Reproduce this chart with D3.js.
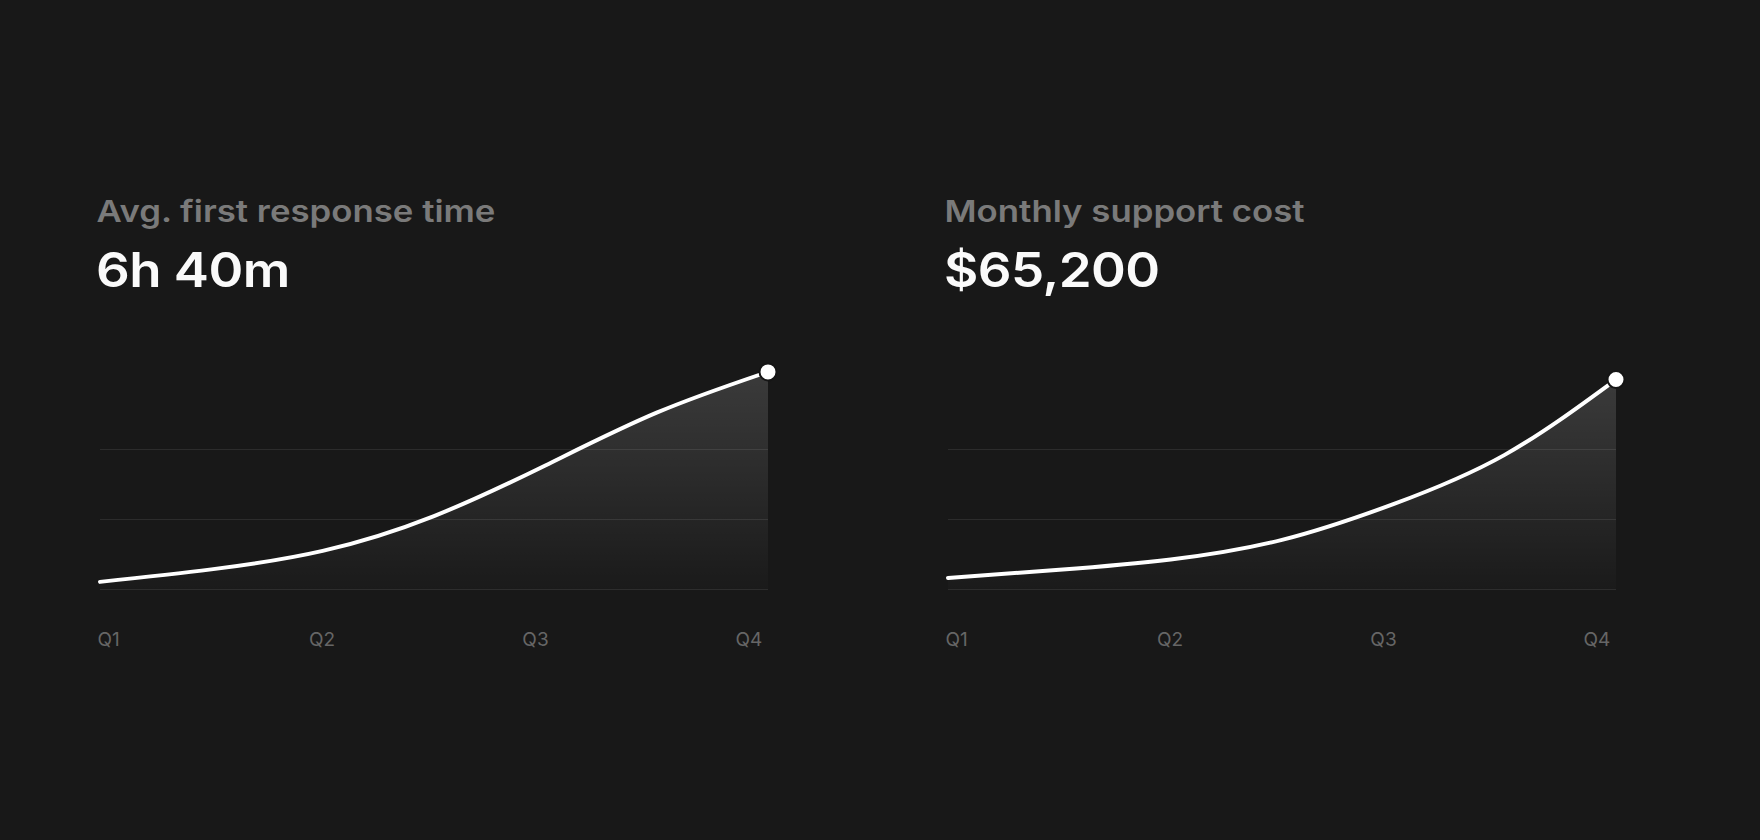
<!DOCTYPE html>
<html>
<head>
<meta charset="utf-8">
<script src="https://cdn.jsdelivr.net/npm/d3@7"></script>
<style>
  html, body { margin: 0; padding: 0; background: #181818; }
  svg { display: block; font-family: Inter, "Noto Sans", sans-serif; }
</style>
</head>
<body>
<div id="chart"></div>
<script>
// data
const titles = ["Avg. first response time", "Monthly support cost"];
const headlines = ["6h 40m", "$65,200"];
const quarters = ["Q1", "Q2", "Q3", "Q4"];
const steps = [0, 1, 2, 3, 4, 5, 6];            // half-quarter steps, Q1..Q4 at 0,2,4,6
const responseMinutes = [14, 37, 71, 135, 228, 325, 400];
const supportCost = [3600, 6100, 9300, 15400, 26500, 41800, 65200];
const seriesList = [responseMinutes, supportCost];
const scaleMax = [386, 65200];

const W = 1760, H = 840;
const origins = [100, 948];
const plotW = 668;
const plotTop = 379.5, plotBottom = 589.5;

const svg = d3.select("#chart")
              .append("svg")
              .attr("width", W)
              .attr("height", H);

svg.append("rect")
   .attr("width", W)
   .attr("height", H)
   .attr("fill", "#181818");

const defs = svg.append("defs");

const xScale = d3.scaleLinear()
                 .domain(d3.extent(steps))
                 .range([0, plotW]);
const labelScale = d3.scalePoint()
                     .domain(quarters)
                     .range([8.5, 649]);

seriesList.forEach((values, k) => {
    const data = steps.map((s, i) => ({step: s, value: values[i]}));
    const yScale = d3.scaleLinear()
                     .domain([0, scaleMax[k]])
                     .range([plotBottom, plotTop]);

    const g = svg.append("g")
                 .attr("transform", `translate(${origins[k]},0)`);

    // the reference face is a wide grotesque, so stretch Inter a little
    g.append("text")
     .attr("transform", "translate(-3.5,222) scale(1.16,1)")
     .attr("fill", "#7a7a7a")
     .style("font-size", "30px")
     .style("font-weight", 600)
     .text(titles[k]);

    g.append("text")
     .attr("transform", "translate(-4,287) scale(1.1,1)")
     .attr("fill", "#fafafa")
     .style("font-size", "48px")
     .style("font-weight", 600)
     .style("letter-spacing", "-0.01em")
     .text(headlines[k]);

    const last = data[data.length - 1];
    const grad = defs.append("linearGradient")
                     .attr("id", "fade" + k)
                     .attr("gradientUnits", "userSpaceOnUse")
                     .attr("x1", 0).attr("x2", 0)
                     .attr("y1", yScale(last.value))
                     .attr("y2", plotBottom);
    grad.append("stop").attr("offset", "0%").attr("stop-color", "#fff").attr("stop-opacity", 0.15);
    grad.append("stop").attr("offset", "100%").attr("stop-color", "#fff").attr("stop-opacity", 0.01);

    const area = d3.area()
                   .x(d => xScale(d.step))
                   .y0(plotBottom)
                   .y1(d => yScale(d.value))
                   .curve(d3.curveNatural);
    g.append("path")
     .datum(data)
     .attr("d", area)
     .attr("fill", `url(#fade${k})`);

    // grid lines at thirds of the scale
    const gridVals = [0, scaleMax[k] / 3, scaleMax[k] * 2 / 3];
    g.selectAll(".grid")
     .data(gridVals)
     .enter()
     .append("line")
     .attr("class", "grid")
     .attr("x1", 0)
     .attr("x2", plotW)
     .attr("y1", d => yScale(d))
     .attr("y2", d => yScale(d))
     .attr("stroke", "#ffffff")
     .attr("stroke-opacity", 0.09)
     .attr("stroke-width", 1);

    const line = d3.line()
                   .x(d => xScale(d.step))
                   .y(d => yScale(d.value))
                   .curve(d3.curveNatural);
    g.append("path")
     .datum(data)
     .attr("d", line)
     .attr("fill", "none")
     .attr("stroke", "#ffffff")
     .attr("stroke-width", 4)
     .attr("stroke-linecap", "round");

    g.append("circle")
     .attr("cx", xScale(last.step))
     .attr("cy", yScale(last.value))
     .attr("r", 8.5)
     .attr("fill", "#ffffff")
     .attr("stroke", "#151515")
     .attr("stroke-width", 2);

    g.selectAll(".qlabel")
     .data(quarters)
     .enter()
     .append("text")
     .attr("class", "qlabel")
     .attr("x", d => labelScale(d))
     .attr("y", 646)
     .attr("text-anchor", "middle")
     .attr("fill", "#666666")
     .style("font-size", "19px")
     .text(d => d);
});
</script>
</body>
</html>
